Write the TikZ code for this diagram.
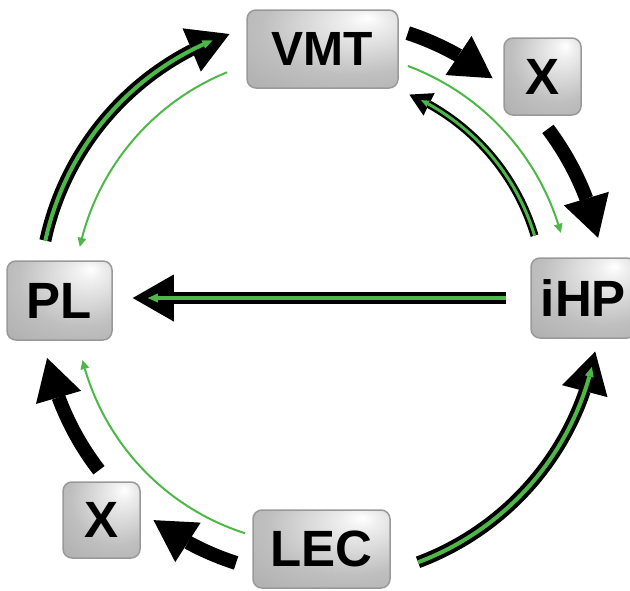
\documentclass[tikz,border=0pt]{standalone}
\usepackage{fontspec}
\setmainfont{Liberation Sans}
\usetikzlibrary{arrows.meta,calc,bending}
\definecolor{grn}{RGB}{77,184,72}
\pgfdeclareradialshading{boxshade}{\pgfpoint{15bp}{20bp}}{color(0bp)=(white); color(6bp)=(white!94!black); color(30bp)=(gray!50); color(60bp)=(gray!72); color(90bp)=(gray!88)}
\begin{document}
\begin{tikzpicture}[x=1pt,y=1pt,
  box/.style={draw=gray!80, line width=1.5pt, rounded corners=9pt, shading=boxshade, inner sep=0pt,
    font=\bfseries\fontsize{51}{51}\selectfont},
  blk/.style={line width=14pt, -{Triangle[length=41pt,width=47pt,line width=0pt,flex]}},
  bgo/.style={line width=12pt, -{Triangle[length=41pt,width=47pt,line width=0pt,flex]}},
  bgi/.style={grn, line width=4pt, -{Triangle[length=10pt,width=9pt,line width=0pt,flex]}},
  smo/.style={line width=8pt, -{Triangle[length=22pt,width=25pt,line width=0pt,flex]}},
  smi/.style={grn, line width=3pt, -{Triangle[length=8pt,width=7pt,line width=0pt,flex]}},
  thin/.style={grn, line width=2pt, -{Triangle[length=9pt,width=9pt,line width=0pt,flex]}}]
\clip (0,0) rectangle (630,-590);
\coordinate (ring) at (320,-300);

% nodes
\node[box, minimum width=151pt, minimum height=78pt, font=\bfseries\fontsize{48}{48}\selectfont] (VMT) at (322.5,-49) {VMT};
\node[box, minimum width=77pt, minimum height=77pt] (Xt) at (542.5,-76.5) {X};
\node[box, minimum width=105pt, minimum height=79pt] (PL) at (59.5,-300.5) {PL};
\node[box, minimum width=105pt, minimum height=80pt] (iHP) at (583.5,-298) {iHP};
\node[box, minimum width=77pt, minimum height=76pt] (Xb) at (101.5,-520) {X};
\node[box, minimum width=137pt, minimum height=78pt] (LEC) at (321.5,-549) {LEC};

% thin green arcs
\draw[thin] ($(ring)+(112.2:246)$) arc[start angle=112.2, end angle=167.5, radius=246];
\draw[thin] ($(ring)+(69.4:250)$) arc[start angle=69.4, end angle=15.6, radius=250];
\draw[thin] ($(ring)+(252.2:245)$) arc[start angle=252.2, end angle=194.2, radius=245];

% plain black arrows
\draw[blk] ($(ring)+(71.8:281)$) arc[start angle=71.8, end angle=52.1, radius=281];
\draw[blk] ($(ring)+(36.9:285)$) arc[start angle=36.9, end angle=12.6, radius=285];
\draw[blk] ($(ring)+(252.3:276)$) arc[start angle=252.3, end angle=232.9, radius=276];
\draw[blk] ($(ring)+(217.6:279)$) arc[start angle=217.6, end angle=192, radius=279];

% black-green arrows
\draw[bgo] ($(ring)+(167.8:281)$) arc[start angle=167.8, end angle=108.8, radius=281];
\draw[bgi] ($(ring)+(167.8:281)$) arc[start angle=167.8, end angle=112.5, radius=281];

\draw[bgo] ($(ring)+(-69.5:280)$) arc[start angle=-69.5, end angle=-10.6, radius=280];
\draw[bgi] ($(ring)+(-69.5:280)$) arc[start angle=-69.5, end angle=-13.8, radius=280];

\draw[smo] ($(ring)+(16.7:224)$) arc[start angle=16.7, end angle=66.5, radius=224];
\draw[smi] ($(ring)+(16.7:224)$) arc[start angle=16.7, end angle=63.2, radius=224];

\draw[bgo] ([xshift=-24pt]iHP.west) -- ([xshift=20pt]PL.east |- iHP.west);
\draw[bgi] ([xshift=-24pt]iHP.west) -- ([xshift=35pt]PL.east |- iHP.west);
\end{tikzpicture}
\end{document}
